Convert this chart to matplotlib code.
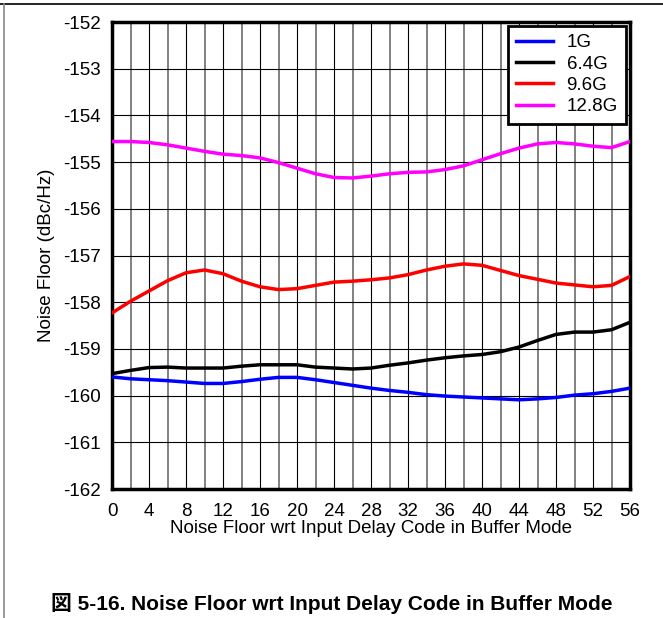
import numpy as np
import matplotlib.pyplot as plt
from matplotlib.lines import Line2D
from matplotlib.ticker import MultipleLocator

plt.rcParams['font.family'] = ['Liberation Sans', 'Noto Sans CJK JP', 'DejaVu Sans']
plt.rcParams['axes.unicode_minus'] = False

# Input delay code (every 2 codes)
codes = np.arange(0, 57, 2)

# Noise floor (dBc/Hz)
nf_1g = [-159.60, -159.64, -159.66, -159.68, -159.71, -159.74, -159.74, -159.70,
         -159.65, -159.61, -159.61, -159.66, -159.72, -159.78, -159.84, -159.89,
         -159.93, -159.98, -160.01, -160.03, -160.05, -160.07, -160.09, -160.07,
         -160.04, -159.99, -159.96, -159.91, -159.84]
nf_64g = [-159.53, -159.46, -159.40, -159.39, -159.41, -159.41, -159.41, -159.37,
          -159.34, -159.34, -159.34, -159.39, -159.41, -159.43, -159.41, -159.35,
          -159.30, -159.24, -159.19, -159.15, -159.12, -159.06, -158.96, -158.82,
          -158.69, -158.64, -158.64, -158.59, -158.43]
nf_96g = [-158.23, -157.98, -157.76, -157.54, -157.37, -157.31, -157.39, -157.55,
          -157.67, -157.73, -157.71, -157.64, -157.57, -157.55, -157.52, -157.48,
          -157.41, -157.31, -157.23, -157.18, -157.21, -157.32, -157.43, -157.51,
          -157.59, -157.63, -157.67, -157.64, -157.45]
nf_128g = [-154.56, -154.56, -154.58, -154.63, -154.70, -154.77, -154.83, -154.86,
           -154.91, -155.01, -155.13, -155.25, -155.33, -155.34, -155.30, -155.25,
           -155.22, -155.21, -155.16, -155.08, -154.95, -154.82, -154.70, -154.61,
           -154.58, -154.61, -154.66, -154.69, -154.56]

labels = ['1G', '6.4G', '9.6G', '12.8G']
colors = ['#0000ff', '#000000', '#ff0000', '#ff00ff']

fig = plt.figure(figsize=(6.63, 6.18), dpi=100)

# page frame: top rule and left rule
fig.add_artist(Line2D([0, 1], [1 - 4 / 618, 1 - 4 / 618], color='black', lw=1.2))
fig.add_artist(Line2D([4 / 663, 4 / 663], [0, 1 - 4 / 618], color='#888888', lw=1.2))

ax = fig.add_axes([112 / 663, 1 - 489 / 618, 518 / 663, 467 / 618])

for ys, lab, col in zip([nf_1g, nf_64g, nf_96g, nf_128g], labels, colors):
    ax.plot(codes, ys, color=col, lw=2.5, label=lab, zorder=3)

ax.set_xlim(0, 56)
ax.set_ylim(-162, -152)
ax.xaxis.set_major_locator(MultipleLocator(4))
ax.xaxis.set_minor_locator(MultipleLocator(2))
ax.yaxis.set_major_locator(MultipleLocator(1))
ax.grid(True, which='major', axis='both', color='black', lw=0.8)
ax.grid(True, which='minor', axis='x', color='#777777', lw=1.3)
ax.tick_params(which='both', length=0, labelsize=13.5)
ax.tick_params(axis='y', pad=8)
ax.tick_params(axis='x', pad=10)

for s in ax.spines.values():
    s.set_linewidth(2.5)

ax.set_xlabel('Noise Floor wrt Input Delay Code in Buffer Mode', fontsize=13.5, labelpad=0)
ax.set_ylabel('Noise Floor (dBc/Hz)', fontsize=13.5, labelpad=6)

leg = ax.legend(loc='upper right', fontsize=13.5, fancybox=False, framealpha=1,
                edgecolor='black', borderpad=0.45, labelspacing=0.22,
                handlelength=2.0, handletextpad=0.7, borderaxespad=0.2)
leg.get_frame().set_linewidth(2.0)

fig.text(0.5, 1 - 603 / 618, '図 5-16. Noise Floor wrt Input Delay Code in Buffer Mode',
         ha='center', va='center', fontsize=15, fontweight='bold')

fig.savefig('out.png', dpi=100)
